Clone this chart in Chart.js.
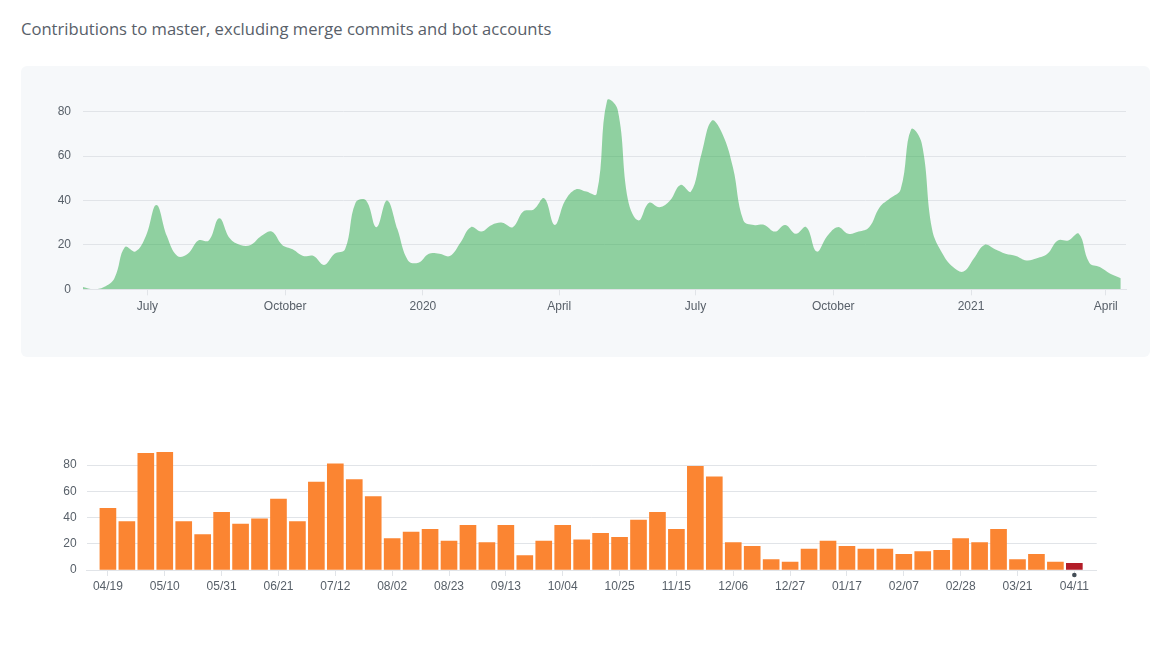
<!DOCTYPE html>
<html>
<head>
<meta charset="utf-8">
<title>Contributions</title>
<script src="https://cdn.jsdelivr.net/npm/chart.js@4.4.0/dist/chart.umd.min.js"></script>
<style>
    body {
        margin: 0;
        width: 1169px;
        height: 660px;
        overflow: hidden;
        background: #fff;
        font-family: "Liberation Sans", Arial, sans-serif;
    }
    #title {
        position: absolute;
        left: 21px;
        top: 17px;
        font-family: "Open Sans", sans-serif;
        font-size: 16.6px;
        color: #586069;
        white-space: nowrap;
    }
    #panel {
        position: absolute;
        left: 21px;
        top: 66px;
        width: 1129px;
        height: 291px;
        background: #f6f8fa;
        border-radius: 6px;
    }
    #areaChart { position: absolute; left: 21px; top: 66px; }
    #barChart { position: absolute; left: 21px; top: 430px; }
</style>
</head>
<body>
<div id="title">Contributions to master, excluding merge commits and bot accounts</div>
<div id="panel"></div>
<canvas id="areaChart" width="1129" height="291"></canvas>
<canvas id="barChart" width="1129" height="180"></canvas>

<script>
// top chart: weekly commits, first week starts 2019-05-19
const areaStart = '2019-05-19';
const weeklyCommits = [
    1, 0, 1, 5, 19, 17, 24, 38, 24, 15,
    16, 22, 22, 32, 23, 20, 20, 24, 26, 20,
    18, 15, 15, 11, 16, 18, 39, 40, 28, 40,
    27, 13, 12, 16, 16, 15, 21, 28, 26, 29,
    30, 28, 35, 36, 41, 29, 40, 45, 44, 43,
    85, 81, 40, 31, 39, 37, 40, 47, 44, 61,
    76, 70, 55, 31, 29, 29, 26, 29, 25, 28,
    17, 24, 28, 25, 26, 28, 37, 41, 45, 72,
    66, 27, 16, 10, 8, 14, 20, 18, 16, 15,
    13, 14, 16, 22, 22, 25, 12, 10, 7, 5
];
const areaTickDates = ['2019-07-01', '2019-10-01', '2020-01-01', '2020-04-01',
                       '2020-07-01', '2020-10-01', '2021-01-01', '2021-04-01'];
const areaTickLabels = ['July', 'October', '2020', 'April', 'July', 'October', '2021', 'April'];

// bottom chart: last 52 weeks
const barCommits = [
    47, 37, 89, 90, 37, 27, 44, 35, 39, 54,
    37, 67, 81, 69, 56, 24, 29, 31, 22, 34,
    21, 34, 11, 22, 34, 23, 28, 25, 38, 44,
    31, 79, 71, 21, 18, 8, 6, 16, 22, 18,
    16, 16, 12, 14, 15, 24, 21, 31, 8, 12,
    6, 5
];
const barTickLabels = ['04/19', '05/10', '05/31', '06/21', '07/12', '08/02', '08/23', '09/13', '10/04',
                       '10/25', '11/15', '12/06', '12/27', '01/17', '02/07', '02/28', '03/21', '04/11'];

const DAY = 24 * 3600 * 1000;
function daysFrom(start, d) {
    return Math.round((Date.parse(d) - Date.parse(start)) / DAY);
}

const tickColor = '#586069';
const gridColor = '#e1e4e8';
const tickFont = { family: '"Liberation Sans", Arial, sans-serif', size: 12 };

let areaPoints = weeklyCommits.map(function(v, i) { return { x: i * 7, y: v }; });
let areaTickDays = areaTickDates.map(function(d) { return daysFrom(areaStart, d); });
let lastDay = (weeklyCommits.length - 1) * 7;

new Chart(document.getElementById('areaChart'), {
    type: 'line',
    data: {
        datasets: [{
            data: areaPoints,
            fill: 'origin',
            backgroundColor: 'rgba(40, 167, 69, 0.5)',
            borderWidth: 0,
            borderColor: 'rgba(0,0,0,0)',
            pointRadius: 0,
            tension: 0.4
        }]
    },
    options: {
        responsive: false,
        animation: false,
        events: [],
        layout: { padding: { top: 23.5, right: 24, left: 0, bottom: 0 } },
        plugins: { legend: { display: false }, tooltip: { enabled: false } },
        scales: {
            x: {
                type: 'linear',
                min: 0,
                max: lastDay + 3.5,
                afterBuildTicks: function(ax) {
                    ax.ticks = areaTickDays.map(function(d) { return { value: d }; });
                },
                afterFit: function(s) { s.height = 67.7; },
                ticks: {
                    autoSkip: false,
                    maxRotation: 0,
                    padding: 4,
                    color: tickColor,
                    font: tickFont,
                    callback: function(value, index) { return areaTickLabels[index]; }
                },
                grid: { drawOnChartArea: false, tickLength: 6, color: gridColor },
                border: { color: gridColor }
            },
            y: {
                min: 0,
                max: 90,
                afterBuildTicks: function(ax) {
                    ax.ticks = ax.ticks.filter(function(t) { return t.value % 20 === 0; });
                },
                afterFit: function(s) { s.width = 62; },
                ticks: { stepSize: 10, padding: 12, color: tickColor, font: tickFont },
                grid: { drawTicks: false, color: gridColor },
                border: { display: false }
            }
        }
    }
});

// dot under the current week
const currentWeekDot = {
    id: 'currentWeekDot',
    afterDatasetsDraw: function(chart) {
        let ctx = chart.ctx;
        let x = chart.scales.x.getPixelForValue(barCommits.length - 1);
        let y = chart.chartArea.bottom + 5;
        ctx.save();
        ctx.beginPath();
        ctx.arc(x, y, 2.3, 0, Math.PI * 2);
        ctx.fillStyle = '#444d56';
        ctx.fill();
        ctx.restore();
    }
};

let barPoints = barCommits.map(function(v, i) { return { x: i, y: v }; });
let barColors = barCommits.map(function(v, i) {
    return i === barCommits.length - 1 ? '#b31d28' : '#fb8532';
});

new Chart(document.getElementById('barChart'), {
    type: 'bar',
    data: {
        datasets: [{
            data: barPoints,
            backgroundColor: barColors,
            barThickness: 16,
            borderWidth: 0
        }]
    },
    plugins: [currentWeekDot],
    options: {
        responsive: false,
        animation: false,
        events: [],
        layout: { padding: { top: 22, right: 53.3, left: 0, bottom: 0 } },
        plugins: { legend: { display: false }, tooltip: { enabled: false } },
        scales: {
            x: {
                type: 'linear',
                offset: false,
                min: -1.12,
                max: barCommits.length - 1 + 1.18,
                afterBuildTicks: function(ax) {
                    ax.ticks = barTickLabels.map(function(l, i) { return { value: i * 3 }; });
                },
                afterFit: function(s) { s.height = 40; },
                ticks: {
                    autoSkip: false,
                    maxRotation: 0,
                    padding: 3,
                    color: tickColor,
                    font: tickFont,
                    callback: function(value, index) { return barTickLabels[index]; }
                },
                grid: { offset: false, drawOnChartArea: false, tickLength: 6, color: gridColor },
                border: { color: gridColor }
            },
            y: {
                min: 0,
                max: 90,
                afterBuildTicks: function(ax) {
                    ax.ticks = ax.ticks.filter(function(t) { return t.value % 20 === 0; });
                },
                afterFit: function(s) { s.width = 65.7; },
                ticks: { stepSize: 10, padding: 10, color: tickColor, font: tickFont },
                grid: { drawTicks: false, color: gridColor },
                border: { display: false }
            }
        }
    }
});
</script>
</body>
</html>
